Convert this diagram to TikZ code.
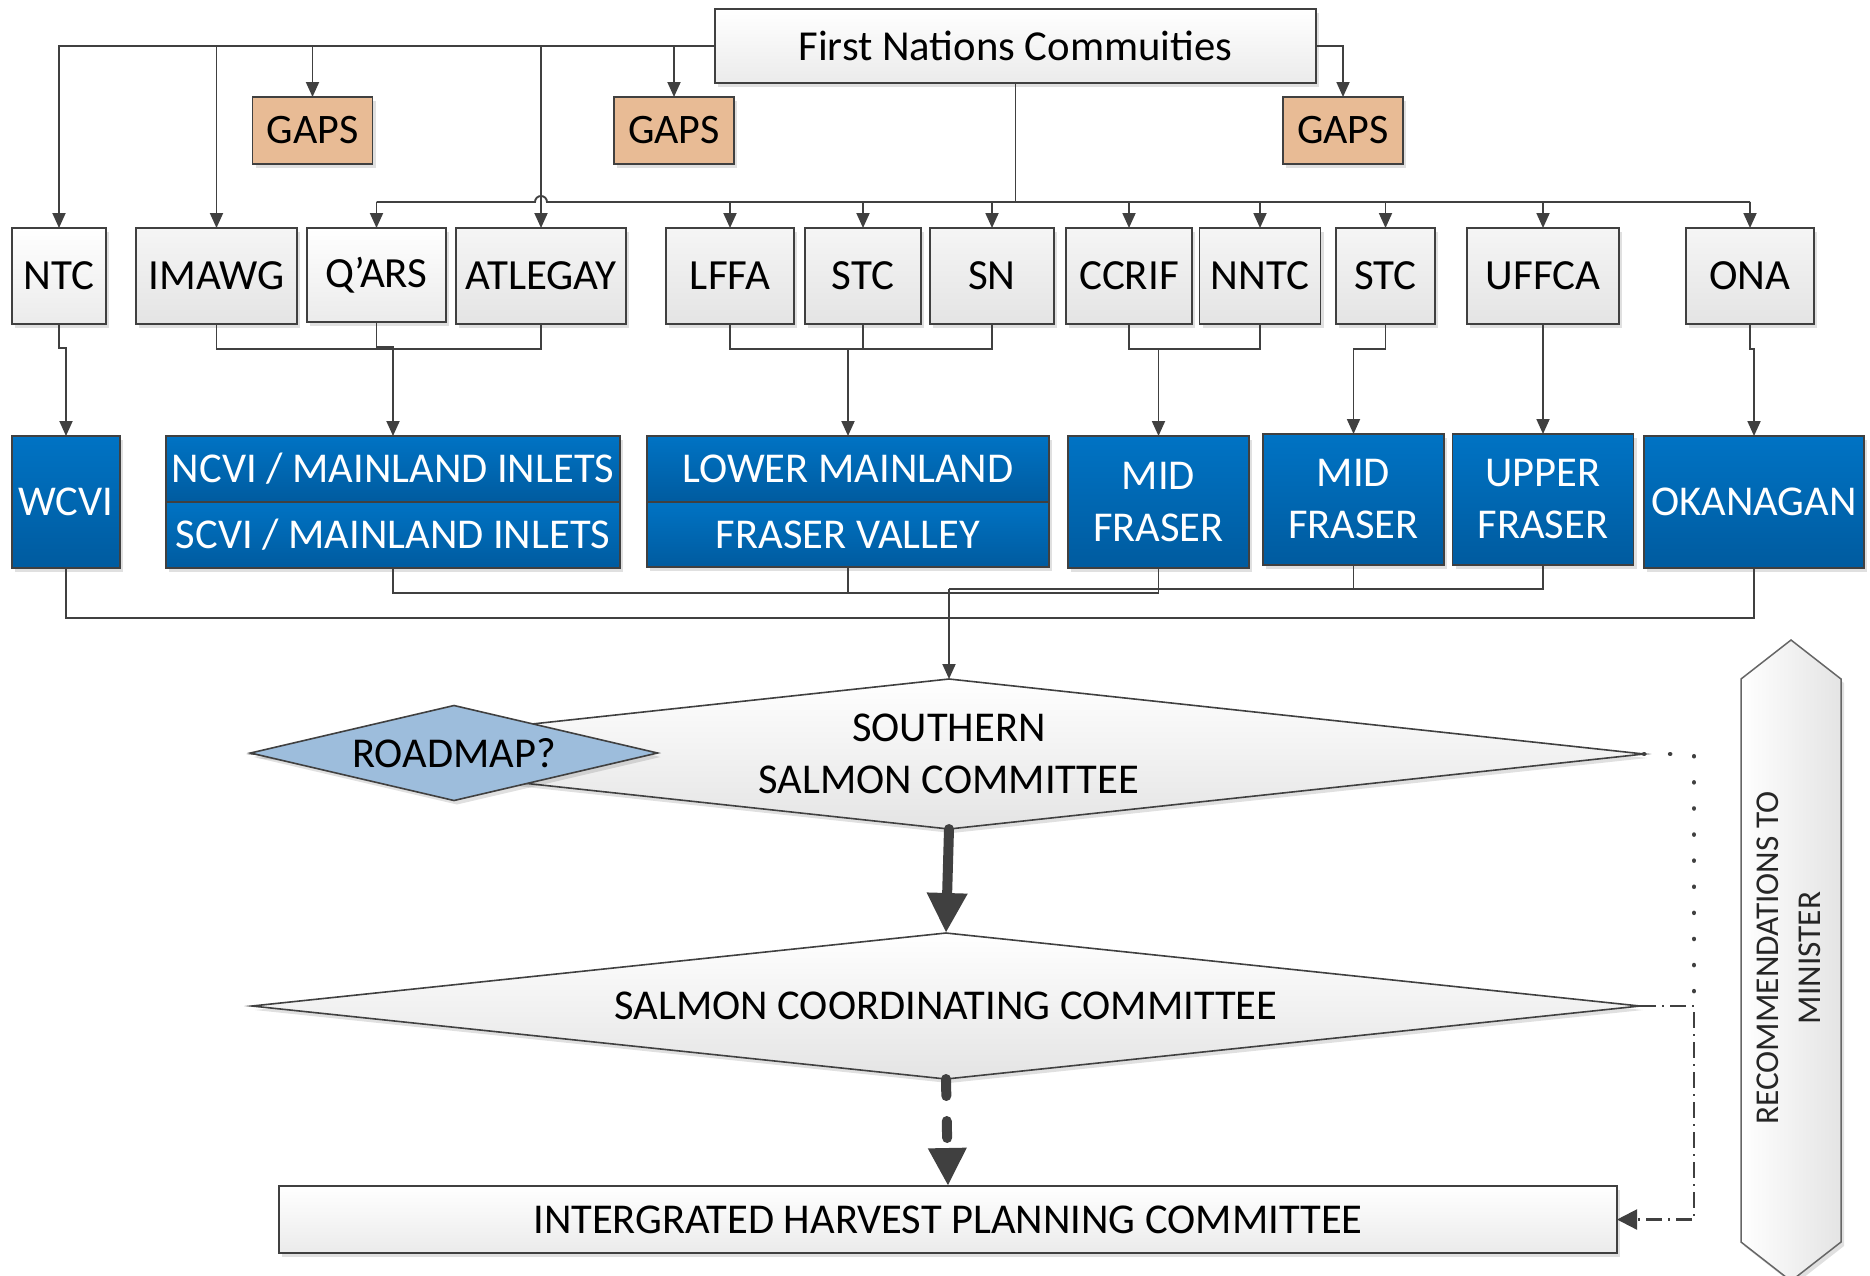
\documentclass[tikz,border=0pt]{standalone}
\usepackage{fontspec}
\setmainfont{Carlito}
\usetikzlibrary{arrows.meta,shapes.geometric,shadows}
\definecolor{lc}{HTML}{404040}
\definecolor{gA}{HTML}{F5F5F5}
\definecolor{gB}{HTML}{E4E4E4}
\definecolor{wA}{HTML}{FFFFFF}
\definecolor{wB}{HTML}{EBEBEB}
\definecolor{bA}{HTML}{0073C4}
\definecolor{bB}{HTML}{005B9F}
\definecolor{gapcol}{HTML}{E8BB95}
\definecolor{roadcol}{HTML}{9DBDDC}
\tikzset{
  base/.style={draw=lc, line width=1.8pt, inner sep=0pt, outer sep=0pt, align=center, font=\fontsize{43}{52}\selectfont},
  shad/.style={drop shadow={shadow xshift=3pt, shadow yshift=-4pt, fill=black, opacity=0.12}},
  gbox/.style={base, shad, top color=gA, bottom color=gB},
  wbox/.style={base, shad, top color=wA, bottom color=wB},
  bbox/.style={base, shad, top color=bA, bottom color=bB, text=white, font=\fontsize{42.5}{52}\selectfont},
  gapbox/.style={base, shad, fill=gapcol, minimum width=120pt, minimum height=67pt, font=\fontsize{42}{52}\selectfont},
  ln/.style={draw=lc, line width=1.9pt},
  arr/.style={ln, -{Triangle[width=13pt,length=15pt]}},
  dia/.style={draw=lc, line width=1.6pt, shape=diamond, inner sep=0pt, outer sep=0pt, align=center, shad, font=\fontsize{42.5}{52}\selectfont},
}
\begin{document}
\begin{tikzpicture}[x=1pt,y=-1pt]
\useasboundingbox (0,0) rectangle (1870,1275);

% top
\node[wbox, minimum width=601pt, minimum height=74pt, font=\fontsize{42.7}{52}\selectfont] (fn) at (1015.5,46) {First Nations Commuities};
\node[gapbox] (gapA) at (312.5,130.5) {GAPS};
\node[gapbox] (gapB) at (674,130.5) {GAPS};
\node[gapbox] (gapC) at (1343,130.5) {GAPS};

% row of communities
\node[wbox, minimum width=94pt, minimum height=96pt] (ntc) at (59,276) {NTC};
\node[gbox, minimum width=161pt, minimum height=96pt] (imawg) at (216.5,276) {IMAWG};
\node[wbox, minimum width=139pt, minimum height=94pt] (qars) at (376.5,275) {Q’ARS};
\node[gbox, minimum width=170pt, minimum height=96pt] (atl) at (541,276) {ATLEGAY};
\node[gbox, minimum width=128pt, minimum height=96pt] (lffa) at (730,276) {LFFA};
\node[gbox, minimum width=116pt, minimum height=96pt] (stc) at (863,276) {STC};
\node[gbox, minimum width=124pt, minimum height=96pt] (sn) at (992,276) {SN};
\node[gbox, minimum width=126pt, minimum height=96pt] (ccrif) at (1129,276) {CCRIF};
\node[gbox, minimum width=121pt, minimum height=96pt] (nntc) at (1260,276) {NNTC};
\node[gbox, minimum width=99pt, minimum height=96pt] (stcb) at (1385.5,276) {STC};
\node[gbox, minimum width=152pt, minimum height=96pt] (uffca) at (1543,276) {UFFCA};
\node[gbox, minimum width=128pt, minimum height=96pt] (ona) at (1750,276) {ONA};

% regions
\node[bbox, minimum width=108pt, minimum height=132pt] (wcvi) at (66,502) {WCVI};
\node[bbox, minimum width=454pt, minimum height=66pt] (ncvi) at (393,469) {NCVI / MAINLAND INLETS};
\node[bbox, minimum width=454pt, minimum height=66pt] (scvi) at (393,535) {SCVI / MAINLAND INLETS};
\node[bbox, minimum width=402pt, minimum height=66pt] (lm) at (848,469) {LOWER MAINLAND};
\node[bbox, minimum width=402pt, minimum height=65pt] (fv) at (848,534.5) {FRASER VALLEY};
\node[bbox, minimum width=181pt, minimum height=132pt] (mfa) at (1158.5,502) {MID\\FRASER};
\node[bbox, minimum width=181pt, minimum height=131pt] (mfb) at (1353.5,499.5) {MID\\FRASER};
\node[bbox, minimum width=181pt, minimum height=131pt] (uf) at (1543,499.5) {UPPER\\FRASER};
\node[bbox, minimum width=220pt, minimum height=132pt] (ok) at (1754,502) {OKANAGAN};

% committees
\node[dia, top color=white, bottom color=gB, minimum width=1390pt, minimum height=150pt, aspect=9.27] (ssc) at (949,754) {SOUTHERN\\SALMON COMMITTEE};
\node[dia, fill=roadcol, minimum width=407pt, minimum height=95pt, aspect=4.28] (road) at (454,753) {ROADMAP?};
\node[dia, top color=white, bottom color=gB, minimum width=1388pt, minimum height=146pt, aspect=9.5] (scc) at (946,1006) {SALMON COORDINATING COMMITTEE};
\node[wbox, minimum width=1338pt, minimum height=67pt, font=\fontsize{42.5}{50}\selectfont] (ihpc) at (948,1219.5) {INTERGRATED HARVEST PLANNING COMMITTEE};

% recommendations
\draw[line width=1.5pt, draw=lc!80, left color=white, right color=gB, shad]
  (1741,679) -- (1791,640) -- (1841,679) -- (1841,1242) -- (1791,1281) -- (1741,1242) -- cycle;
\node[rotate=90, align=center, font=\fontsize{33.3}{42}\selectfont, text=black!85] (rec) at (1789,958) {RECOMMENDATIONS TO\\MINISTER};

% top connectors
\draw[arr] (fn.west) -| (ntc.north);
\foreach \n in {imawg,gapA,atl,gapB} \draw[arr] (\n.north |- fn.west) -- (\n.north);
\draw[arr] (fn.east) -| (gapC.north);
\coordinate (bus) at (fn.south |- 0,202);
\coordinate (brg) at (atl.north |- bus);
\draw[ln] (fn.south) -- (bus);
\draw[ln] (qars.north |- bus) -- ([xshift=-6pt]brg) arc[start angle=180, end angle=0, radius=6pt] -- (ona.north |- bus);
\foreach \n in {qars,lffa,stc,sn,ccrif,nntc,stcb,uffca,ona} \draw[arr] (\n.north |- bus) -- (\n.north);

% community -> region
\draw[arr] (ntc.south) -- ++(0,24) -| (wcvi.north);
\draw[ln] (imawg.south) -- ++(0,25) -| (atl.south);
\draw[arr] (qars.south) -- ++(0,25) -| (ncvi.north);
\draw[ln] (lffa.south) -- ++(0,25) -| (sn.south);
\draw[ln] (stc.south) -- ++(0,25);
\draw[arr] (lm.north |- 0,349) -- (lm.north);
\draw[ln] (ccrif.south) -- ++(0,25) -| (nntc.south);
\draw[arr] (mfa.north |- 0,349) -- (mfa.north);
\draw[arr] (stcb.south) -- ++(0,25) -| (mfb.north);
\draw[arr] (uffca.south) -- (uf.north);
\draw[arr] (ona.south) -- ++(0,25) -| (ok.north);

% region -> committee
\draw[ln] (scvi.south) -- ++(0,25) -| (mfa.south);
\draw[ln] (fv.south) -- (fv.south |- 0,593);
\draw[ln] (mfb.south) -- ++(0,24) -| (uf.south);
\draw[ln] (mfb.south |- 0,589) -- (ssc.north |- 0,589);
\draw[ln] (wcvi.south) -- ++(0,50) -| (ok.south);
\draw[arr] (ssc.north |- 0,589) -- (ssc.north);

% committee flow
\draw[lc, line width=10pt, line cap=round, -{Triangle[width=38pt,length=40pt]}] (ssc.south) -- (scc.north);
\draw[lc, line width=10pt, line cap=round, dash pattern=on 17pt off 25pt, -{Triangle[width=36pt,length=38pt]}] (scc.south) -- (ihpc.north);

\coordinate (rx) at (1694,0);
\draw[lc, line width=4.5pt, line cap=round, dash pattern=on 0.1pt off 26pt] (ssc.east) -- (ssc.east -| rx) -- (rx |- scc.east);
\draw[lc, line width=2.2pt, dash pattern=on 16pt off 6pt on 2pt off 6pt, -{Triangle[width=20pt,length=20pt]}] (scc.east) -- (scc.east -| rx) -- (rx |- ihpc.east) -- (ihpc.east);
\end{tikzpicture}
\end{document}
